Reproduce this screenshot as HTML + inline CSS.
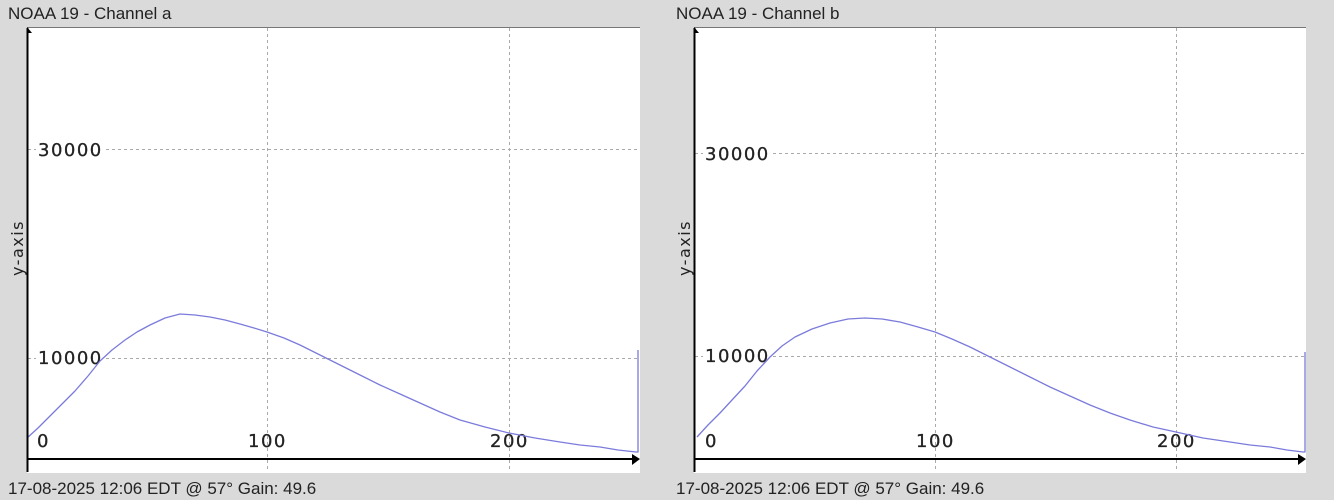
<!DOCTYPE html>
<html><head><meta charset="utf-8"><style>
html,body{margin:0;padding:0;background:#dadada;}
svg{display:block}
</style></head><body>
<svg width="1334" height="500" xmlns="http://www.w3.org/2000/svg">
<rect width="1334" height="500" fill="#dadada"/>
<g font-family="Liberation Sans, sans-serif" font-size="17" fill="#222">
<text x="8" y="19">NOAA 19 - Channel a</text>
<text x="676" y="19">NOAA 19 - Channel b</text>
<text x="8" y="494">17-08-2025 12:06 EDT @ 57° Gain: 49.6</text>
<text x="676" y="494">17-08-2025 12:06 EDT @ 57° Gain: 49.6</text>
</g>
<!-- left panel -->
<rect x="27" y="27" width="613" height="446" fill="#fff"/>
<line x1="27" y1="27.5" x2="640" y2="27.5" stroke="#777" stroke-width="1"/>
<g stroke="#aaa" stroke-dasharray="3,3" stroke-width="1">
<line x1="267.5" y1="28" x2="267.5" y2="472"/>
<line x1="509.5" y1="28" x2="509.5" y2="472"/>
<line x1="28" y1="149.5" x2="640" y2="149.5"/>
<line x1="28" y1="358.5" x2="640" y2="358.5"/>
</g>
<g font-family="DejaVu Sans, sans-serif" font-size="18" font-weight="500" letter-spacing="1.5" fill="#222" stroke="#222" stroke-width="0.3">
<rect x="36" y="139" width="70" height="20" fill="#fff" stroke="none"/>
<rect x="36" y="348" width="70" height="20" fill="#fff" stroke="none"/>
<text x="38" y="156">30000</text>
<text x="38" y="364">10000</text>
<text x="37" y="447">0</text>
<text x="248" y="447">100</text>
<text x="490" y="447">200</text>
</g>
<polyline fill="none" stroke="#7b7bdc" stroke-width="1.3" stroke-linejoin="round" points="27,438 38,428 50,416 62,404 75,391 88,376 100,361 112,350 125,340 137,332 150,325 165,318 180,314 195,315 210,317 225,320 240,324 254,328 267,332 284,338 300,345 320,355 340,365 360,375 380,385 400,394 420,403 440,412 460,420 485,427 509,433 535,438 560,442 580,445 600,447 618,450 636,452 638,452 638,350"/>
<line x1="27.5" y1="28" x2="27.5" y2="472" stroke="#000" stroke-width="2"/>
<line x1="27" y1="459" x2="636" y2="459" stroke="#000" stroke-width="2"/>
<polygon points="27,27 32,33 27,33" fill="#000"/>
<polygon points="632,454 640,459 632,465" fill="#000"/>
<text transform="translate(23,248) rotate(-90)" text-anchor="middle" font-family="DejaVu Sans, sans-serif" font-size="16" letter-spacing="1.5" fill="#222">y-axis</text>
<!-- right panel -->
<rect x="694" y="27" width="612" height="446" fill="#fff"/>
<line x1="694" y1="27.5" x2="1306" y2="27.5" stroke="#777" stroke-width="1"/>
<g stroke="#aaa" stroke-dasharray="3,3" stroke-width="1">
<line x1="935.5" y1="28" x2="935.5" y2="472"/>
<line x1="1176.5" y1="28" x2="1176.5" y2="472"/>
<line x1="695" y1="153.5" x2="1306" y2="153.5"/>
<line x1="695" y1="356.5" x2="1306" y2="356.5"/>
</g>
<g font-family="DejaVu Sans, sans-serif" font-size="18" font-weight="500" letter-spacing="1.5" fill="#222" stroke="#222" stroke-width="0.3">
<rect x="703" y="143" width="70" height="20" fill="#fff" stroke="none"/>
<rect x="703" y="346" width="70" height="20" fill="#fff" stroke="none"/>
<text x="705" y="160">30000</text>
<text x="705" y="362">10000</text>
<text x="705" y="447">0</text>
<text x="916" y="447">100</text>
<text x="1157" y="447">200</text>
</g>
<polyline fill="none" stroke="#7b7bdc" stroke-width="1.3" stroke-linejoin="round" points="697,437 708,425 720,413 732,400 745,386 757,371 770,357 782,346 795,337 812,329 830,323 848,319 865,318 882,319 900,322 918,327 935,332 952,339 970,347 990,357 1010,367 1030,377 1050,387 1070,396 1090,405 1110,413 1130,420 1153,427 1176,432 1203,438 1230,442 1250,445 1270,447 1287,450 1303,452 1305,452 1305,352"/>
<line x1="694.5" y1="28" x2="694.5" y2="472" stroke="#000" stroke-width="2"/>
<line x1="694" y1="459" x2="1302" y2="459" stroke="#000" stroke-width="2"/>
<polygon points="694,27 699,33 694,33" fill="#000"/>
<polygon points="1298,454 1306,459 1298,465" fill="#000"/>
<text transform="translate(690,248) rotate(-90)" text-anchor="middle" font-family="DejaVu Sans, sans-serif" font-size="16" letter-spacing="1.5" fill="#222">y-axis</text>
</svg>
</body></html>
